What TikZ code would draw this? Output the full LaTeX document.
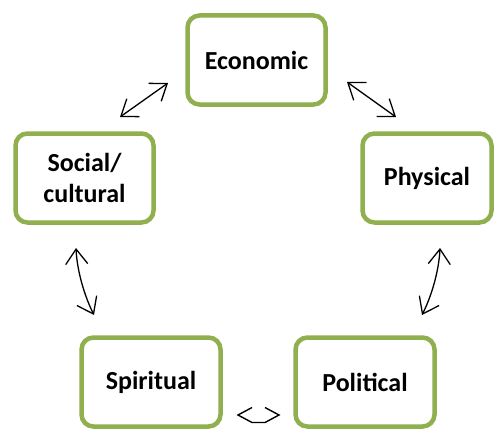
\documentclass[tikz,border=0pt]{standalone}
\usepackage{fontspec}
\setmainfont{Carlito}
\usetikzlibrary{arrows.meta}
\definecolor{boxgreen}{RGB}{144,175,78}
\tikzset{
  box/.style={draw=boxgreen, line width=4.5pt, rounded corners=12pt, fill=white,
    align=center, font=\fontsize{26}{31}\selectfont\bfseries, inner sep=0pt},
  arr/.style={draw=black, line width=1.3pt,
    {Straight Barb[length=15pt,width=22pt,line width=1.3pt]}-{Straight Barb[length=15pt,width=22pt,line width=1.3pt]}},
  barbline/.style={draw=black, line width=1.4pt, line join=miter}
}
\begin{document}
\begin{tikzpicture}[x=1pt,y=-1pt]
\useasboundingbox (0,0) rectangle (497,428);
\clip (0,0) rectangle (497,428);
\node[box, minimum width=138pt, minimum height=89pt] (eco) at (256.5,60) {Economic};
\node[box, minimum width=138pt, minimum height=89pt] (soc) at (84.5,178) {Social/\\cultural};
\node[box, minimum width=129pt, minimum height=89pt] (phy) at (427,178) {Physical};
\node[box, minimum width=139pt, minimum height=89pt] (spi) at (151,382) {Spiritual};
\node[box, minimum width=139pt, minimum height=89pt] (pol) at (365,382) {Political};
\coordinate (es1) at (120,117);
\coordinate (es2) at (168,83);
\coordinate (ep1) at (347,82);
\coordinate (ep2) at (396,117);
\coordinate (ss1) at (76,248);
\coordinate (ss2) at (94,315);
\coordinate (pp1) at (440,248);
\coordinate (pp2) at (422,315);
\coordinate (sp1) at (238,415);
\coordinate (sp2) at (279,415);
\coordinate (spa) at (252,407.5);
\coordinate (spb) at (265,407.5);
\draw[arr] (es1) -- (es2);
\draw[arr] (ep1) -- (ep2);
\draw[arr] (ss1) .. controls (77,270) and (84,295) .. (ss2);
\draw[arr] (pp1) .. controls (439,270) and (432,295) .. (pp2);
\draw[barbline] (spa) -- (sp1) -- (252,422.5) -- (265,422.5) -- (sp2) -- (spb);
\end{tikzpicture}
\end{document}
